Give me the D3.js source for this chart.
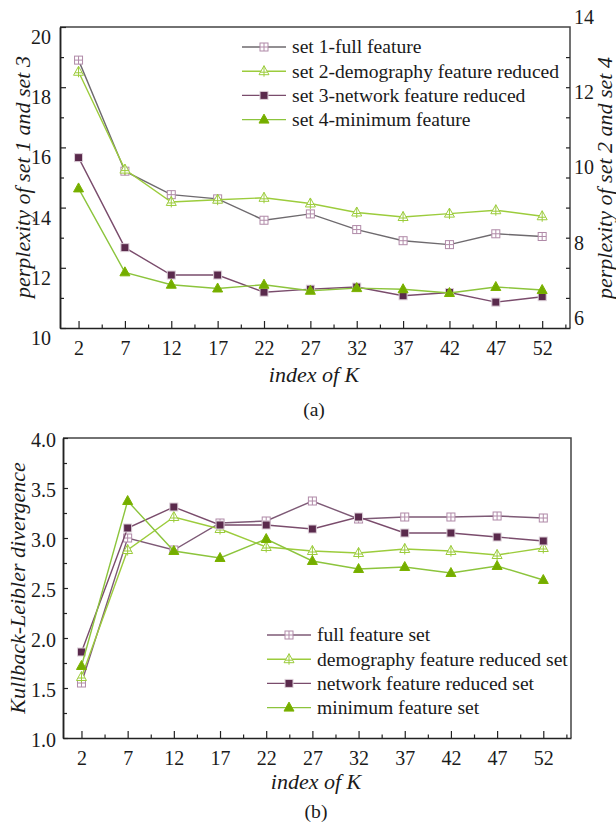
<!DOCTYPE html>
<html>
<head>
<meta charset="utf-8">
<script src="https://cdn.jsdelivr.net/npm/d3@7"></script>
<style>
body { margin: 0; background: #fff; }
svg text { font-family: "Liberation Serif", "Times New Roman", serif; fill: #1a1a1a; }
.tick text { font-size: 20px; }
.lab { font-size: 19.6px; }
.title { font-size: 22px; font-style: italic; }
</style>
</head>
<body>
<svg id="chart" width="616" height="829"></svg>
<script>
// index of K (shared by both panels)
const kIndex = [2, 7, 12, 17, 22, 27, 32, 37, 42, 47, 52];

// (a) perplexity, set 1 / set 3 on left axis, set 2 / set 4 on right axis
const set1 = [18.9, 15.21, 14.43, 14.29, 13.58, 13.79, 13.27, 12.9, 12.77, 13.13, 13.04];
const set2 = [12.81, 10.21, 9.35, 9.41, 9.46, 9.31, 9.07, 8.95, 9.04, 9.13, 8.97];
const set3 = [15.66, 12.67, 11.76, 11.76, 11.19, 11.29, 11.36, 11.07, 11.18, 10.86, 11.04];
const set4 = [9.71, 7.48, 7.15, 7.05, 7.15, 6.99, 7.06, 7.03, 6.93, 7.09, 7.01];
const namesA = ["set 1-full feature", "set 2-demography feature reduced",
	"set 3-network feature reduced", "set 4-minimum feature"];
const leftTicksA = [10, 12, 14, 16, 18, 20];
const rightTicksA = [6, 8, 10, 12, 14];

// (b) Kullback-Leibler divergence
const klFull = [1.55, 3.00, 2.88, 3.15, 3.17, 3.37, 3.19, 3.21, 3.21, 3.22, 3.20];
const klDemo = [1.61, 2.88, 3.21, 3.09, 2.91, 2.87, 2.85, 2.89, 2.87, 2.83, 2.90];
const klNet = [1.86, 3.10, 3.31, 3.13, 3.13, 3.09, 3.21, 3.05, 3.05, 3.01, 2.97];
const klMin = [1.72, 3.37, 2.87, 2.80, 2.99, 2.77, 2.69, 2.71, 2.65, 2.72, 2.58];
const namesB = ["full feature set", "demography feature reduced set",
	"network feature reduced set", "minimum feature set"];
const klTicks = [1.0, 1.5, 2.0, 2.5, 3.0, 3.5, 4.0];

const svg = d3.select("#chart");
const axisColor = "#222";

// marker shapes: sqplus / triplus / sq / tri
const drawMarker = (g, type, cx, cy, st) => {
	let m = g.append("g").attr("transform", "translate(" + cx + "," + cy + ")");
	if (type === "sqplus" || type === "sq") {
		m.append("rect").attr("x", -4).attr("y", -4).attr("width", 8).attr("height", 8)
			.attr("fill", type === "sq" ? st.fill : "#fff")
			.attr("stroke", st.mark).attr("stroke-width", 1);
		if (type === "sqplus") {
			m.append("path").attr("d", "M-4,0H4M0,-4V4").attr("stroke", st.mark).attr("stroke-width", 1);
		}
	} else {
		m.append("path").attr("d", "M0,-5.5L5,3.5L-5,3.5Z")
			.attr("fill", type === "tri" ? st.fill : "#fff")
			.attr("stroke", st.mark).attr("stroke-width", 1);
		if (type === "triplus") {
			m.append("path").attr("d", "M-3.5,1H3.5M0,-5.5V5.5").attr("stroke", st.mark).attr("stroke-width", 1);
		}
	}
};

const styleAxis = (g) => {
	g.attr("font-size", null).attr("font-family", null);
	g.select(".domain").attr("stroke", axisColor).attr("stroke-width", 1.5);
	g.selectAll(".tick line").attr("stroke", axisColor).attr("stroke-width", 1.2);
};

const drawSeries = (g, x, y, values, type, st) => {
	let line = d3.line().x((d, i) => x(kIndex[i])).y(d => y(d));
	g.append("path").datum(values).attr("d", line)
		.attr("fill", "none").attr("stroke", st.line).attr("stroke-width", 1.4);
	values.forEach((v, i) => drawMarker(g, type, x(kIndex[i]), y(v), st));
};

const drawLegend = (g, x0, y0, names, types, styles) => {
	names.forEach((name, i) => {
		let yy = y0 + i * 24.2;
		g.append("line").attr("x1", x0).attr("x2", x0 + 44).attr("y1", yy).attr("y2", yy)
			.attr("stroke", styles[i].line).attr("stroke-width", 1.4);
		drawMarker(g, types[i], x0 + 22, yy, styles[i]);
		g.append("text").attr("class", "lab").attr("x", x0 + 50).attr("y", yy).attr("dy", "0.33em").text(name);
	});
};

const xAxes = (g, x, yPos) => {
	let ax = g.append("g").attr("transform", "translate(0," + yPos + ")")
		.call(d3.axisBottom(x).tickValues(kIndex).tickFormat(d3.format("d"))
			.tickSizeInner(-7).tickSizeOuter(0).tickPadding(13));
	styleAxis(ax);
	let mn = g.append("g").attr("transform", "translate(0," + yPos + ")")
		.call(d3.axisBottom(x).tickValues(kIndex.map(k => k + 2.5)).tickFormat("")
			.tickSizeInner(-3.5).tickSizeOuter(0));
	styleAxis(mn);
	mn.select(".domain").remove();
};

const types = ["sqplus", "triplus", "sq", "tri"];

// ---------- panel (a) ----------
{
	const styles = [
		{ line: "#6e6a6e", mark: "#b08aa8" },
		{ line: "#9ccc3c", mark: "#9ccc3c" },
		{ line: "#7a4c6c", mark: "#dccfd8", fill: "#5a2a4c" },
		{ line: "#8cc43c", mark: "#7cb300", fill: "#74ad00" }
	];
	let x = d3.scaleLinear().domain([0, 55]).range([60, 570]);
	let yL = d3.scaleLinear().domain([10, 20]).range([328, 27]);
	let yR = d3.scaleLinear().domain([6, 14]).range([328, 27]);
	let g = svg.append("g");

	// frame top / right
	g.append("path").attr("d", "M" + x(0) + "," + yL(20) + "H" + x(55) + "V" + yL(10))
		.attr("fill", "none").attr("stroke", "#444").attr("stroke-width", 1.5);

	xAxes(g, x, yL(10));

	let la = g.append("g").attr("transform", "translate(" + x(0) + ",0)")
		.call(d3.axisLeft(yL).tickValues(leftTicksA).tickFormat(d3.format("d"))
			.tickSizeInner(-6).tickSizeOuter(0).tickPadding(9));
	styleAxis(la);
	la.selectAll(".tick text").attr("y", 10);
	let lm = g.append("g").attr("transform", "translate(" + x(0) + ",0)")
		.call(d3.axisLeft(yL).tickValues([11, 13, 15, 17, 19]).tickFormat("").tickSizeInner(-4).tickSizeOuter(0));
	styleAxis(lm);

	// right axis: ticks mirror left axis, labels from right scale
	let rt = g.append("g").attr("transform", "translate(" + x(55) + ",0)")
		.call(d3.axisRight(yL).tickValues(d3.range(11, 20)).tickFormat("").tickSizeInner(-4).tickSizeOuter(0));
	styleAxis(rt);
	rt.select(".domain").remove();
	let ra = g.append("g").attr("transform", "translate(" + x(55) + ",0)")
		.call(d3.axisRight(yR).tickValues(rightTicksA).tickFormat(d3.format("d")).tickSize(0).tickPadding(4));
	styleAxis(ra);
	ra.select(".domain").remove();
	ra.selectAll(".tick text").attr("y", -10);

	drawSeries(g, x, yL, set1, types[0], styles[0]);
	drawSeries(g, x, yR, set2, types[1], styles[1]);
	drawSeries(g, x, yL, set3, types[2], styles[2]);
	drawSeries(g, x, yR, set4, types[3], styles[3]);

	drawLegend(g, 242, 47, namesA, types, styles);

	g.append("text").attr("class", "title").attr("transform", "translate(30,177) rotate(-90)")
		.attr("text-anchor", "middle").text("perplexity of set 1 and set 3");
	g.append("text").attr("class", "title").attr("transform", "translate(612,178) rotate(-90)")
		.attr("text-anchor", "middle").text("perplexity of set 2 and set 4");
	g.append("text").attr("class", "title").attr("x", 314).attr("y", 375).attr("dy", "0.33em")
		.attr("text-anchor", "middle").text("index of K");
	g.append("text").attr("class", "lab").attr("x", 314).attr("y", 410).attr("dy", "0.33em")
		.attr("text-anchor", "middle").text("(a)");
}

// ---------- panel (b) ----------
{
	const styles = [
		{ line: "#7e5a76", mark: "#b08aa8" },
		{ line: "#9ccc3c", mark: "#9ccc3c" },
		{ line: "#7a4c6c", mark: "#dccfd8", fill: "#5a2a4c" },
		{ line: "#8cc43c", mark: "#7cb300", fill: "#74ad00" }
	];
	let x = d3.scaleLinear().domain([0, 55]).range([63, 571]);
	let y = d3.scaleLinear().domain([1, 4]).range([738, 438]);
	let g = svg.append("g");

	g.append("path").attr("d", "M" + x(0) + "," + y(4) + "H" + x(55) + "V" + y(1))
		.attr("fill", "none").attr("stroke", "#444").attr("stroke-width", 1.5);

	xAxes(g, x, y(1));

	let la = g.append("g").attr("transform", "translate(" + x(0) + ",0)")
		.call(d3.axisLeft(y).tickValues(klTicks).tickFormat(d3.format(".1f"))
			.tickSizeInner(-5).tickSizeOuter(0).tickPadding(7));
	styleAxis(la);
	la.selectAll(".tick text").attr("y", 2);
	let lm = g.append("g").attr("transform", "translate(" + x(0) + ",0)")
		.call(d3.axisLeft(y).tickValues(klTicks.slice(0, -1).map(v => v + 0.25)).tickFormat("")
			.tickSizeInner(-4).tickSizeOuter(0));
	styleAxis(lm);

	drawSeries(g, x, y, klFull, types[0], styles[0]);
	drawSeries(g, x, y, klDemo, types[1], styles[1]);
	drawSeries(g, x, y, klNet, types[2], styles[2]);
	drawSeries(g, x, y, klMin, types[3], styles[3]);

	drawLegend(g, 267, 635, namesB, types, styles);

	g.append("text").attr("class", "title").attr("transform", "translate(25,588) rotate(-90)")
		.attr("text-anchor", "middle").text("Kullback-Leibler divergence");
	g.append("text").attr("class", "title").attr("x", 316).attr("y", 782).attr("dy", "0.33em")
		.attr("text-anchor", "middle").text("index of K");
	g.append("text").attr("class", "lab").attr("x", 316).attr("y", 812).attr("dy", "0.33em")
		.attr("text-anchor", "middle").text("(b)");
}
</script>
</body>
</html>
